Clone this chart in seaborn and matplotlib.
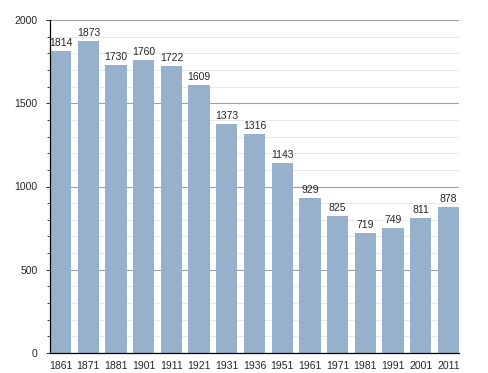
import pandas as pd
import matplotlib
matplotlib.use("Agg")
import matplotlib.pyplot as plt
from matplotlib import font_manager
from matplotlib.ticker import MultipleLocator
import seaborn as sns

years = ["1861", "1871", "1881", "1901", "1911", "1921", "1931", "1936",
         "1951", "1961", "1971", "1981", "1991", "2001", "2011"]
population = [1814, 1873, 1730, 1760, 1722, 1609, 1373, 1316,
              1143, 929, 825, 719, 749, 811, 878]

df = pd.DataFrame({"year": years, "pop": population})

sns.set_style("white")

# pick regular Liberation Sans (not the narrow variant)
fpath = None
for f in font_manager.fontManager.ttflist:
    if f.name == "Liberation Sans" and f.style == "normal" and f.weight == 400 \
            and "Narrow" not in f.fname:
        fpath = f.fname
        break


def fp(size):
    if fpath:
        return font_manager.FontProperties(fname=fpath, size=size)
    return font_manager.FontProperties(family="DejaVu Sans", size=size)


fig = plt.figure(figsize=(4.88, 3.73), dpi=100)
ax = fig.add_axes([50 / 488, 20 / 373, 409 / 488, 333 / 373])

bw = 0.77
sns.barplot(data=df, x="year", y="pop", color="#97b0cc", saturation=1,
            width=bw, linewidth=0, ax=ax, zorder=3)

for i, v in enumerate(population):
    ax.text(i, v + 18, str(v), ha="center", va="bottom",
            fontproperties=fp(7.5), zorder=4)

ax.set_xlim(-bw / 2, len(years) - 1 + bw / 2)
ax.set_ylim(0, 2000)
ax.yaxis.set_major_locator(MultipleLocator(500))
ax.yaxis.set_minor_locator(MultipleLocator(100))
ax.grid(axis="y", which="major", color="#a0a0a0", linewidth=0.8, zorder=0)
ax.grid(axis="y", which="minor", color="#e4e4e4", linewidth=0.6, zorder=0)
ax.set_axisbelow(True)

for s in ["top", "right"]:
    ax.spines[s].set_visible(False)
for s in ["left", "bottom"]:
    ax.spines[s].set_color("black")
    ax.spines[s].set_linewidth(0.9)
    ax.spines[s].set_zorder(5)

ax.tick_params(axis="y", which="major", left=True, length=3, width=0.7, pad=6)
ax.tick_params(axis="y", which="minor", left=True, length=2.5, width=0.6)
ax.tick_params(axis="x", bottom=False, pad=2)
for lab in ax.get_xticklabels() + ax.get_yticklabels():
    lab.set_fontproperties(fp(7.5))
ax.set_xlabel("")
ax.set_ylabel("")

fig.savefig("out.png", dpi=100)
